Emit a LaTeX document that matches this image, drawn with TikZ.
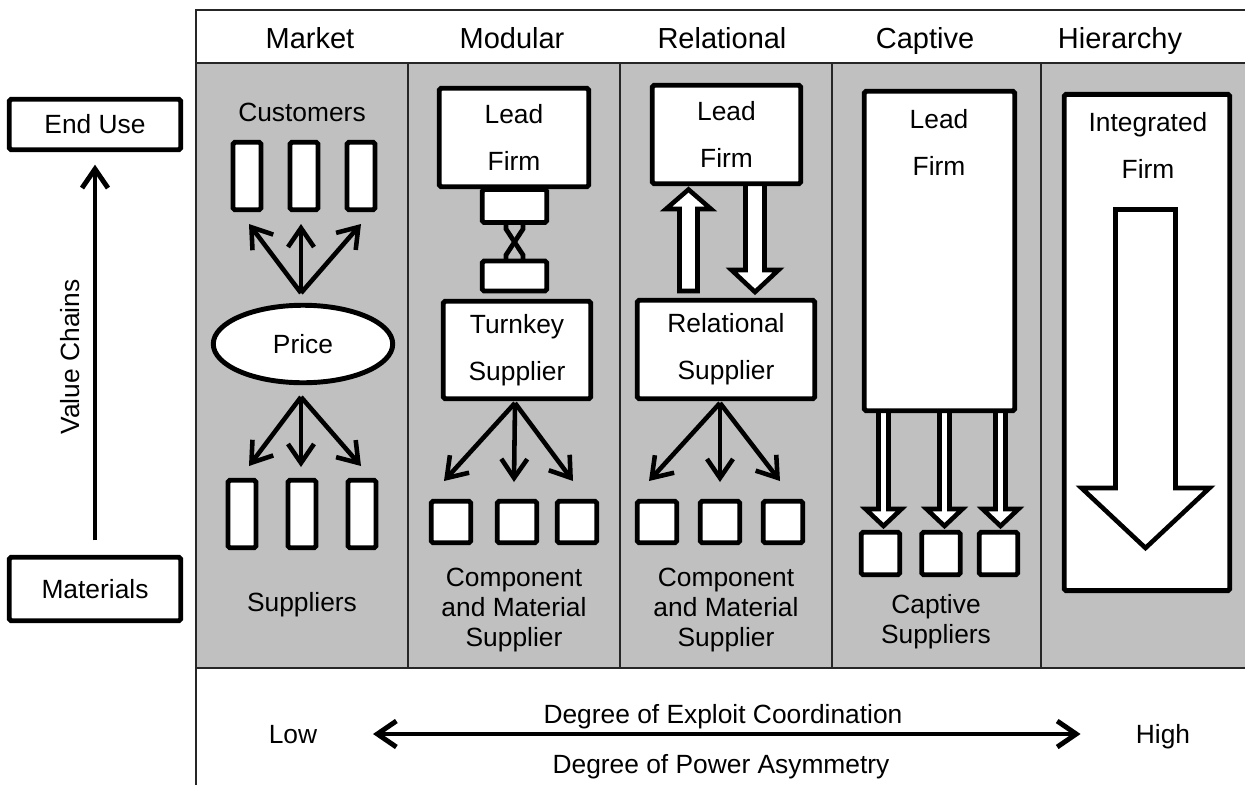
\documentclass[tikz,border=0pt]{standalone}
\usepackage{fontspec}
\setmainfont{Liberation Sans}
\usetikzlibrary{arrows.meta,positioning,shapes.geometric}
\definecolor{panel}{RGB}{192,192,192}

\begin{document}
\begin{tikzpicture}
	[
	x=0.02cm, y=-0.02cm,
	every node/.style={font=\fontsize{15}{18}\selectfont, inner sep=0pt},
	lbl/.style={text height=10.74pt, text depth=0pt},
	head/.style={font=\fontsize{16.5}{20}\selectfont, text height=11.8pt, text depth=0pt},
	frame/.style={draw=black!85, line width=1.1pt},
	box/.style={draw=black, fill=white, line width=2.8pt, rounded corners=1pt},
	firm/.style={box, align=center, font=\fontsize{15}{26.8}\selectfont},
	firmtext/.style={align=center, font=\fontsize{15}{26.8}\selectfont},
	caption/.style={align=center, font=\fontsize{15}{17}\selectfont},
	flow/.style={->, >={Straight Barb[length=3.8mm, width=5.2mm]}, line width=2.6pt},
	flow2/.style={<->, >={Straight Barb[length=3.8mm, width=5.2mm]}, line width=2.8pt},
	hollow/.style={draw=black, fill=white, line width=2.6pt, line join=miter}
	]
	
	\useasboundingbox (0,0) rectangle (1245,785);
	
	% table
	\fill[panel] (196,63) rectangle (1245,668);
	\draw[frame] (1245,10) -- (196,10) -- (196,785);
	\draw[frame] (196,63) -- (1245,63);
	\draw[frame] (196,668) -- (1245,668);
	\foreach \x in {408,620,832,1041}
		\draw[frame] (\x,63) -- (\x,668);
	
	\node[head](market) at (310,38){Market};
	\node[head](modular) at (512,38){Modular};
	\node[head](relational) at (722,38){Relational};
	\node[head](captive) at (925,38){Captive};
	\node[head](hierarchy) at (1120,38){Hierarchy};
	
	% market
	\node[lbl](customers) at (302,112.5){Customers};
	\foreach \i/\x in {1/247, 2/304, 3/361}
		\node[box, minimum width=0.56cm, minimum height=1.35cm](cu\i) at (\x,176){};
	\node[box, ellipse, minimum width=3.59cm, minimum height=1.55cm](price) at (303,344){Price};
	\foreach \i/\x in {1/242, 2/302, 3/362}
		\node[box, minimum width=0.56cm, minimum height=1.35cm](su\i) at (\x,514){};
	\node[lbl](suppliers) at (302,602.5){Suppliers};
	
	\coordinate (mk-up) at (301,293);
	\coordinate (mk-dn) at (301,397);
	\foreach \i/\x/\y in {1/249/224, 2/301/224, 3/361/224}
		\coordinate (mk-u\i) at (\x,\y);
	\foreach \i/\x/\y in {1/249/466, 2/301/467, 3/361/466}
		\coordinate (mk-d\i) at (\x,\y);
	\foreach \i in {1,2,3}{
		\draw[flow](mk-up) -- (mk-u\i);
		\draw[flow](mk-dn) -- (mk-d\i);
	}
	
	% modular
	\node[box, minimum width=1.29cm, minimum height=0.66cm](stub-a) at (514.5,206){};
	\node[box, minimum width=1.29cm, minimum height=0.6cm](stub-b) at (514.5,276){};
	\draw[line width=2.7pt] (506,223) -- (506,229) -- (523,255) -- (523,262);
	\draw[line width=2.7pt] (523,223) -- (523,229) -- (506,255) -- (506,262);
	\node[firm, minimum width=2.99cm, minimum height=1.97cm](lf2) at (514,137.5){Lead\\Firm};
	\node[firm, minimum width=2.95cm, minimum height=1.95cm](turnkey) at (517,350){Turnkey\\Supplier};
	
	\coordinate (md-hub) at (515,403);
	\foreach \i/\x/\y in {1/444/481, 2/514/482, 3/573/481}{
		\coordinate (md-t\i) at (\x,\y);
		\draw[flow](md-hub) -- (md-t\i);
	}
	\foreach \i/\x in {1/451, 2/517, 3/577}
		\node[box, minimum width=0.79cm, minimum height=0.83cm](md-c\i) at (\x,522){};
	\node[caption](md-text) at (514,610){Component\\and Material\\Supplier};
	
	% relational
	\draw[hollow] (679.5,291) -- (679.5,209) -- (666,209) -- (688.5,189.5) -- (711,209) -- (697.5,209) -- (697.5,291) -- cycle;
	\draw[hollow] (745.5,184) -- (745.5,270) -- (731.5,270) -- (755,292) -- (778.5,270) -- (764.5,270) -- (764.5,184);
	\node[firm, minimum width=2.97cm, minimum height=1.97cm](lf3) at (726.5,134.5){Lead\\Firm};
	\node[firm, minimum width=3.55cm, minimum height=1.97cm](relsup) at (726,349.5){Relational\\Supplier};
	
	\coordinate (rl-hub) at (720,403);
	\foreach \i/\x/\y in {1/649/481, 2/720/482, 3/780/481}{
		\coordinate (rl-t\i) at (\x,\y);
		\draw[flow](rl-hub) -- (rl-t\i);
	}
	\foreach \i/\x in {1/657, 2/720, 3/783}
		\node[box, minimum width=0.79cm, minimum height=0.83cm](rl-c\i) at (\x,522){};
	\node[caption](rl-text) at (726,610){Component\\and Material\\Supplier};
	
	% captive
	\foreach \x in {883.5, 944.5, 1000.5}
		\draw[hollow] (\x-5,410) -- (\x-5,509) -- (\x-18,509) -- (\x,526) -- (\x+18,509) -- (\x+5,509) -- (\x+5,410);
	\node[box, minimum width=3.01cm, minimum height=6.39cm](lf4) at (939.5,251){};
	\node[firmtext](lf4-text) at (939,142){Lead\\Firm};
	\foreach \i/\x in {1/880.5, 2/941, 3/998.5}
		\node[box, minimum width=0.77cm, minimum height=0.85cm](cp-c\i) at (\x,553.5){};
	\node[caption](cp-text) at (936,622){Captive\\Suppliers};
	
	% hierarchy
	\node[box, minimum width=3.31cm, minimum height=9.93cm](ifirm) at (1147,342.5){};
	\node[firmtext](ifirm-text) at (1148,145){Integrated\\Firm};
	\draw[hollow] (1115.5,209.5) -- (1115.5,488) -- (1081.5,488) -- (1145.5,548) -- (1209.5,488) -- (1175.5,488) -- (1175.5,209.5) -- cycle;
	
	% value chain axis
	\node[box, minimum width=3.43cm, minimum height=1.01cm](enduse) at (95,124.5){End Use};
	\node[box, minimum width=3.43cm, minimum height=1.27cm](materials) at (95,589){Materials};
	\draw[flow, line width=2.8pt, shorten <=0.29cm, shorten >=0.25cm](materials) -- (enduse);
	\node[rotate=90](valuechains) at (70,357){Value Chains};
	
	% coordination axis
	\node[lbl](low) at (293,734){Low};
	\node[lbl](high) at (1163,734){High};
	\draw[flow2, shorten <=1.11cm, shorten >=1.1cm](low) -- (high);
	\node[lbl](exploit) at (723,714){Degree of Exploit Coordination};
	\node[lbl](power) at (721,764){Degree of Power Asymmetry};
\end{tikzpicture}
\end{document}
